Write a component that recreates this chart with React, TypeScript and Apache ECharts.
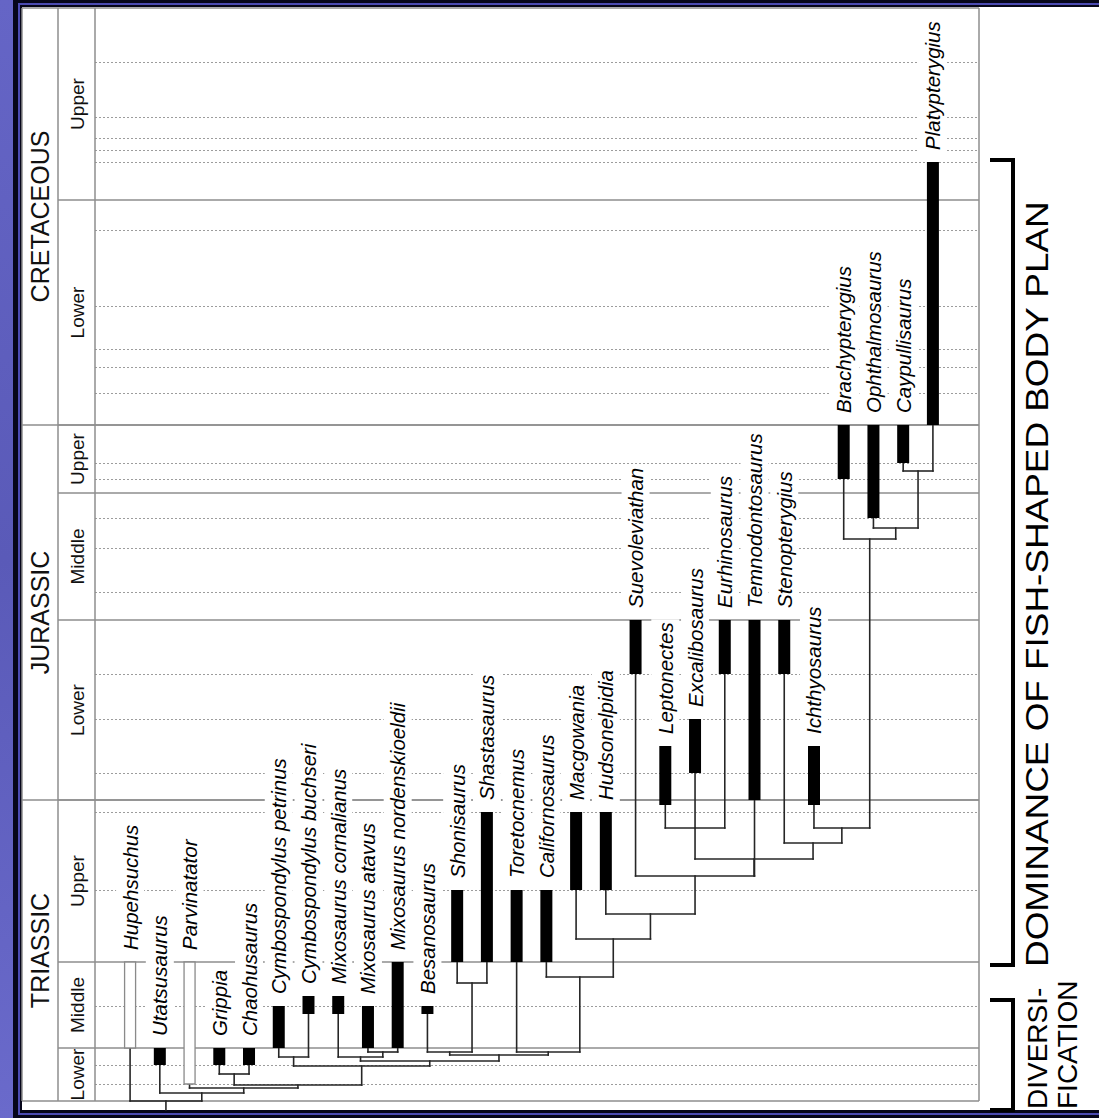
import React, { useEffect, useRef } from "react";
import * as echarts from "echarts";

// ---------- DATA ----------
// Relative stratigraphic scale: 0 = top of the Upper Cretaceous, 1093 = base of the Lower Triassic
const periods = ["CRETACEOUS", "JURASSIC", "TRIASSIC"];
const periodYoung = [0, 417, 792];
const periodOld = [417, 792, 1093];

const epochs = ["Upper", "Lower", "Upper", "Middle", "Lower", "Upper", "Middle", "Lower"];
const epochYoung = [0, 192, 417, 485, 612, 792, 954, 1040];
const epochOld = [192, 417, 485, 612, 792, 954, 1040, 1093];

// stage boundaries (dotted)
const stageLines = [54, 109, 130, 142, 154, 222, 298, 341, 359, 385, 455, 471, 510, 540, 584, 666, 711, 765, 804, 882, 998, 1057, 1076];

const taxa = [
  "Hupehsuchus", "Utatsusaurus", "Parvinatator", "Grippia", "Chaohusaurus",
  "Cymbospondylus petrinus", "Cymbospondylus buchseri", "Mixosaurus cornalianus",
  "Mixosaurus atavus", "Mixosaurus nordenskioeldii", "Besanosaurus", "Shonisaurus",
  "Shastasaurus", "Toretocnemus", "Californosaurus", "Macgowania", "Hudsonelpidia",
  "Suevoleviathan", "Leptonectes", "Excalibosaurus", "Eurhinosaurus", "Temnodontosaurus",
  "Stenopterygius", "Ichthyosaurus", "Brachypterygius", "Ophthalmosaurus",
  "Caypullisaurus", "Platypterygius",
];
const rangeYoung = [954, 1040, 954, 1040, 1040, 998, 988, 988, 998, 954, 998, 882, 804, 882, 882, 804, 804, 612, 738, 711, 612, 612, 612, 738, 417, 417, 417, 154];
const rangeOld = [1040, 1057, 1076, 1057, 1057, 1040, 1006, 1006, 1040, 1040, 1006, 954, 954, 954, 954, 882, 882, 666, 797, 765, 666, 792, 666, 797, 471, 510, 455, 417];
const uncertainRange = ["Hupehsuchus", "Parvinatator"];

// cladogram: each clade joins its members at a level on the time scale
const cladeIds = [
  "platy", "oph2", "ophth", "ichth", "thunn", "lepto", "neo2", "neo", "hudso", "macgo",
  "calif", "toret", "shast2", "shast", "merr", "mixo2", "mixo", "mixmerr", "cymbo",
  "ichthyosauria", "grippi", "eoich", "parvin", "ichthyopt", "root",
];
const cladeMembers = [
  ["Caypullisaurus", "Platypterygius"],
  ["Ophthalmosaurus", "platy"],
  ["Brachypterygius", "oph2"],
  ["Ichthyosaurus", "ophth"],
  ["Stenopterygius", "ichth"],
  ["Leptonectes", "Excalibosaurus", "Eurhinosaurus"],
  ["lepto", "thunn"],
  ["Suevoleviathan", "Temnodontosaurus", "neo2"],
  ["Hudsonelpidia", "neo"],
  ["Macgowania", "hudso"],
  ["Californosaurus", "macgo"],
  ["Toretocnemus", "calif"],
  ["Shonisaurus", "Shastasaurus"],
  ["Besanosaurus", "shast2"],
  ["shast", "toret"],
  ["Mixosaurus atavus", "Mixosaurus nordenskioeldii"],
  ["Mixosaurus cornalianus", "mixo2"],
  ["mixo", "merr"],
  ["Cymbospondylus petrinus", "Cymbospondylus buchseri"],
  ["cymbo", "mixmerr"],
  ["Grippia", "Chaohusaurus"],
  ["grippi", "ichthyosauria"],
  ["Parvinatator", "eoich"],
  ["Utatsusaurus", "parvin"],
  ["Hupehsuchus", "ichthyopt"],
];
const cladeLevel = [463, 520, 531, 820, 835, 820, 851, 868, 906, 931, 969, 1044, 975, 1044, 1047, 1044, 1049, 1053, 1049, 1058, 1066, 1077, 1080, 1085, 1093];
const rootStem = 1102;

const phases = ["DOMINANCE OF FISH-SHAPED BODY PLAN", "DIVERSI-\nFICATION"];
const phaseYoung = [152, 992];
const phaseOld = [957, 1102];

// ---------- DERIVED ----------
const xOf: Record<string, number> = {};
const baseOf: Record<string, number> = {};
taxa.forEach((t, i) => {
  xOf[t] = i;
  baseOf[t] = rangeOld[i];
});
cladeIds.forEach((id, k) => {
  const xs = cladeMembers[k].map((m) => xOf[m]);
  xOf[id] = (Math.min(...xs) + Math.max(...xs)) / 2;
  baseOf[id] = cladeLevel[k];
});

const FONT = '"Liberation Sans", Arial, Helvetica, sans-serif';
const GRID_LINE = "#8e8e8e";

function seg(x1: number, y1: number, x2: number, y2: number, style: any) {
  return { type: "line", shape: { x1, y1, x2, y2 }, style };
}

function buildOption(): any {
  const frameStyle = { stroke: GRID_LINE, lineWidth: 1.5 };
  const treeStyle = { stroke: "#262626", lineWidth: 1.6, lineCap: "square" };

  return {
    animation: false,
    backgroundColor: new echarts.graphic.LinearGradient(0, 0, 0, 1, [
      { offset: 0, color: "#6565c6" },
      { offset: 0.5, color: "#5a5ab8" },
      { offset: 1, color: "#6a6acb" },
    ]),
    graphic: [
      { type: "rect", z: 0, silent: true, shape: { x: 13, y: -20, width: 1200, height: 1200 }, style: { fill: "#06061a" } },
      { type: "rect", z: 0, silent: true, shape: { x: 18, y: 3, width: 1200, height: 1112 }, style: { fill: "#4b4bb2" } },
      { type: "rect", z: 0, silent: true, shape: { x: 20, y: 5, width: 1200, height: 1108 }, style: { fill: "#06061a" } },
      { type: "rect", z: 0, silent: true, shape: { x: 22, y: 7, width: 1200, height: 1103 }, style: { fill: "#ffffff" } },
    ],
    grid: { left: 95, right: 120, top: 8, bottom: 17 },
    xAxis: { type: "value", min: -1.18, max: 28.55, show: false },
    yAxis: { type: "value", inverse: true, min: 0, max: 1093, show: false },
    series: [
      // dotted stage lines
      {
        type: "custom",
        z: 3,
        silent: true,
        data: stageLines.map((v) => [0, v]),
        renderItem: (params: any, api: any) => {
          const cs = params.coordSys;
          const y = Math.round(api.coord([0, api.value(1)])[1]) + 0.5;
          return seg(cs.x, y, cs.x + cs.width, y, { stroke: "#9c9c9c", lineWidth: 1, lineDash: [2, 2] });
        },
      },
      // epochs
      {
        type: "custom",
        z: 4,
        silent: true,
        data: epochs.map((e, i) => [0, epochYoung[i], epochOld[i]]),
        renderItem: (params: any, api: any) => {
          const cs = params.coordSys;
          const i = params.dataIndex;
          const y0 = api.coord([0, epochYoung[i]])[1];
          const y1 = api.coord([0, epochOld[i]])[1];
          const children: any[] = [];
          if (epochYoung[i] > 0) children.push(seg(cs.x - 37, y0, cs.x + cs.width, y0, frameStyle));
          children.push({
            type: "text",
            x: cs.x - 18,
            y: (y0 + y1) / 2,
            rotation: Math.PI / 2,
            style: { text: epochs[i], fontSize: 19, fontFamily: FONT, fill: "#111", align: "center", verticalAlign: "middle" },
          });
          return { type: "group", children };
        },
      },
      // periods
      {
        type: "custom",
        z: 4,
        silent: true,
        data: periods.map((p, i) => [0, periodYoung[i], periodOld[i]]),
        renderItem: (params: any, api: any) => {
          const cs = params.coordSys;
          const i = params.dataIndex;
          const y0 = api.coord([0, periodYoung[i]])[1];
          const y1 = api.coord([0, periodOld[i]])[1];
          const children: any[] = [];
          if (periodYoung[i] > 0) children.push(seg(cs.x - 73, y0, cs.x + cs.width, y0, frameStyle));
          children.push({
            type: "text",
            x: cs.x - 55,
            y: (y0 + y1) / 2,
            rotation: Math.PI / 2,
            style: { text: periods[i], fontSize: 25, fontFamily: FONT, fill: "#111", align: "center", verticalAlign: "middle" },
          });
          return { type: "group", children };
        },
      },
      // table frame
      {
        type: "custom",
        z: 4,
        silent: true,
        data: [[0, 0]],
        renderItem: (params: any, api: any) => {
          const cs = params.coordSys;
          const top = api.coord([0, periodYoung[0]])[1];
          const bot = api.coord([0, periodOld[periodOld.length - 1]])[1];
          const L = cs.x - 73;
          const R = cs.x + cs.width;
          return {
            type: "group",
            children: [
              seg(L, top, R, top, frameStyle),
              seg(L, bot, R, bot, frameStyle),
              seg(L, top, L, bot, frameStyle),
              seg(cs.x - 37, top, cs.x - 37, bot, frameStyle),
              seg(cs.x, top, cs.x, bot, frameStyle),
              seg(R, top, R, bot, frameStyle),
            ],
          };
        },
      },
      // taxon labels
      {
        type: "custom",
        z: 6,
        silent: true,
        data: taxa.map((t, i) => [i, rangeYoung[i]]),
        renderItem: (params: any, api: any) => {
          const i = params.dataIndex;
          const p = api.coord([i, rangeYoung[i]]);
          return {
            type: "text",
            x: p[0],
            y: p[1] - 9,
            rotation: Math.PI / 2,
            style: {
              text: taxa[i],
              fontSize: 20.5,
              fontStyle: "italic",
              fontFamily: FONT,
              fill: "#000",
              align: "left",
              verticalAlign: "middle",
              backgroundColor: "#fff",
              padding: [4, 3],
            },
          };
        },
      },
      // cladogram
      {
        type: "custom",
        z: 7,
        silent: true,
        data: cladeIds.map((id) => [xOf[id], baseOf[id]]),
        renderItem: (params: any, api: any) => {
          const k = params.dataIndex;
          const lvl = cladeLevel[k];
          const mem = cladeMembers[k];
          const xs = mem.map((m) => xOf[m]);
          const a = api.coord([Math.min(...xs), lvl]);
          const b = api.coord([Math.max(...xs), lvl]);
          const children: any[] = [seg(a[0], a[1], b[0], b[1], treeStyle)];
          mem.forEach((m) => {
            const t = api.coord([xOf[m], baseOf[m]]);
            const u = api.coord([xOf[m], lvl]);
            children.push(seg(t[0], t[1], u[0], u[1], treeStyle));
          });
          if (cladeIds[k] === "root") {
            const s0 = api.coord([xOf.root, lvl]);
            const s1 = api.coord([xOf.root, rootStem]);
            children.push(seg(s0[0], s0[1], s1[0], s1[1], treeStyle));
          }
          return { type: "group", children };
        },
      },
      // range bars
      {
        type: "custom",
        z: 8,
        silent: true,
        data: taxa.map((t, i) => [i, rangeYoung[i], rangeOld[i]]),
        renderItem: (params: any, api: any) => {
          const i = params.dataIndex;
          const p1 = api.coord([i, rangeYoung[i]]);
          const p2 = api.coord([i, rangeOld[i]]);
          const open = uncertainRange.includes(taxa[i]);
          const w = open ? 11 : 12;
          return {
            type: "rect",
            shape: { x: p1[0] - w / 2, y: p1[1], width: w, height: p2[1] - p1[1] },
            style: open ? { fill: "#fff", stroke: "#8a8a8a", lineWidth: 1.3 } : { fill: "#000" },
          };
        },
      },
      // evolutionary phases (brackets on the right)
      {
        type: "custom",
        z: 8,
        silent: true,
        data: phases.map((p, i) => [0, phaseYoung[i], phaseOld[i]]),
        renderItem: (params: any, api: any) => {
          const cs = params.coordSys;
          const i = params.dataIndex;
          const y0 = api.coord([0, phaseYoung[i]])[1];
          const y1 = api.coord([0, phaseOld[i]])[1];
          const R = cs.x + cs.width;
          const two = phases[i].indexOf("\n") >= 0;
          return {
            type: "group",
            children: [
              {
                type: "polyline",
                shape: { points: [[R + 11, y0], [R + 34, y0], [R + 34, y1], [R + 11, y1]] },
                style: { stroke: "#000", lineWidth: 4, fill: null, lineJoin: "miter" },
              },
              {
                type: "text",
                x: two ? R + 58 - 15 : R + 58,
                y: two ? y1 - 1 : y1 + 2,
                rotation: Math.PI / 2,
                scaleX: two ? 1.0 : 1.19,
                style: {
                  text: phases[i],
                  fontSize: two ? 28 : 31,
                  lineHeight: 30,
                  fontFamily: FONT,
                  fill: "#000",
                  align: "left",
                  verticalAlign: two ? "top" : "middle",
                },
              },
            ],
          };
        },
      },
    ],
  };
}

export default function App() {
  const ref = useRef<HTMLDivElement>(null);
  useEffect(() => {
    document.body.style.margin = "0";
    document.body.style.overflow = "hidden";
    const chart = echarts.init(ref.current as HTMLDivElement, null, { renderer: "svg" });
    chart.setOption(buildOption());
    return () => chart.dispose();
  }, []);
  return <div ref={ref} style={{ width: 1099, height: 1118 }} />;
}
